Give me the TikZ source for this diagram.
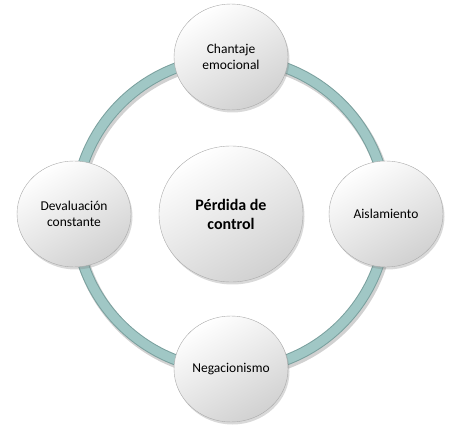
\documentclass[tikz,border=0pt]{standalone}
\usepackage{fontspec}
\setmainfont{Carlito}
\usetikzlibrary{shapes.geometric,shadows}
\definecolor{ringfill}{RGB}{160,199,197}
\definecolor{ringedge}{RGB}{122,160,158}
\definecolor{nodeedge}{RGB}{170,170,170}
\begin{document}
\begin{tikzpicture}[x=1pt,y=1pt]

% definitions
\tikzstyle{outer} = [ellipse, minimum width=114pt, minimum height=106pt, inner sep=0pt, align=center, draw=nodeedge, top color=white, bottom color=black!18, shading angle=30, drop shadow={opacity=0.3, shadow xshift=1.5pt, shadow yshift=-2.5pt}, font=\fontsize{13.5}{16}\selectfont]

\tikzstyle{core} = [ellipse, minimum width=144pt, minimum height=136pt, inner sep=0pt, align=center, draw=nodeedge, top color=white, bottom color=black!18, shading angle=30, drop shadow={opacity=0.3, shadow xshift=1.5pt, shadow yshift=-2.5pt}, font=\fontsize{16}{19}\selectfont\bfseries]

\tikzstyle{ring} = [draw=ringedge, line width=11pt]

\useasboundingbox (0,0) rectangle (466,434);

% the ring
\coordinate (o) at (231,220);
\draw [line width=12pt, black, opacity=0.18] ([xshift=1.5pt, yshift=-2.5pt]o) circle (156);
\draw [ring] (o) circle (156);
\draw [ringfill, line width=9pt] (o) circle (156);

% the graph
\node (p0) [core] at (o) {Pérdida de\\control};

\node (p1) [outer, above of=p0, node distance=157pt] {Chantaje\\emocional};

\node (p2) [outer, right of=p0, node distance=155pt] {Aislamiento};

\node (p3) [outer, below of=p0, node distance=155pt] {Negacionismo};

\node (p4) [outer, left of=p0, node distance=157pt] {Devaluación\\constante};

\end{tikzpicture}
\end{document}
